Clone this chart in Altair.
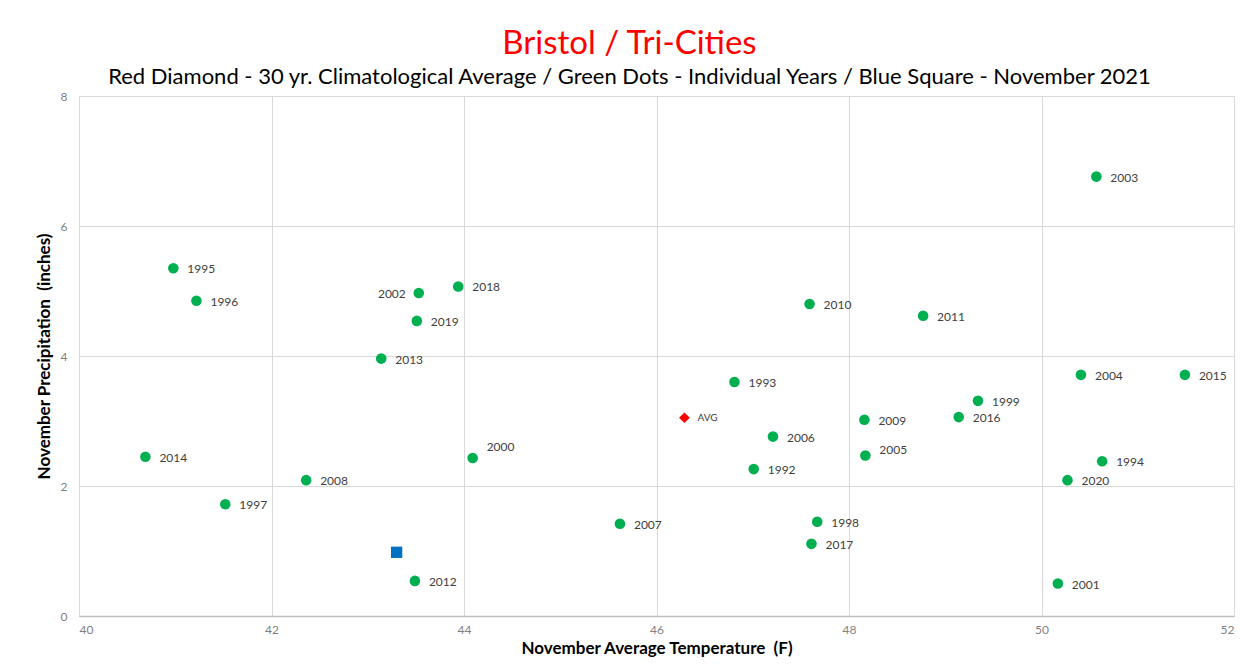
import altair as alt
import pandas as pd

years = ["1992", "1993", "1994", "1995", "1996", "1997", "1998", "1999", "2000",
         "2001", "2002", "2003", "2004", "2005", "2006", "2007", "2008", "2009",
         "2010", "2011", "2012", "2013", "2014", "2015", "2016", "2017", "2018",
         "2019", "2020"]
temps = [47.01, 46.81, 50.63, 40.98, 41.22, 41.52, 47.67, 49.34, 44.09,
         50.17, 43.53, 50.57, 50.41, 48.17, 47.21, 45.62, 42.36, 48.16,
         47.59, 48.77, 43.49, 43.14, 40.69, 51.49, 49.14, 47.61, 43.94,
         43.51, 50.27]
precip = [2.26, 3.60, 2.38, 5.35, 4.85, 1.72, 1.45, 3.31, 2.43,
          0.50, 4.97, 6.76, 3.71, 2.47, 2.76, 1.42, 2.09, 3.02,
          4.80, 4.62, 0.54, 3.96, 2.45, 3.71, 3.06, 1.11, 5.07,
          4.54, 2.09]

avg_label = ["AVG"]
avg_temp = [46.29]
avg_precip = [3.05]

cur_label = ["2021"]
cur_temp = [43.30]
cur_precip = [0.98]

x_ticks = [40, 42, 44, 46, 48, 50, 52]
y_ticks = [0, 2, 4, 6, 8]

# label placement groups
left_labeled = ["2002"]
raised_high = ["2000"]
raised_low = ["2005"]

df = pd.DataFrame({"year": years, "temp": temps, "precip": precip})
avg_df = pd.DataFrame({"label": avg_label, "temp": avg_temp, "precip": avg_precip})
cur_df = pd.DataFrame({"label": cur_label, "temp": cur_temp, "precip": cur_precip})

FONT = "Lato"
x_enc = alt.X("temp:Q", title="November Average Temperature\u00a0 (F)",
              scale=alt.Scale(domain=[40, 52], nice=False, zero=False),
              axis=alt.Axis(values=x_ticks, format="d", grid=True, gridColor="#d9d9d9",
                            domain=True, domainColor="#bfbfbf", domainWidth=1.5,
                            ticks=False, labelPadding=8, labelColor="#7f7f7f",
                            labelFontSize=12, labelFont=FONT,
                            titleFont=FONT, titleFontSize=17, titleFontWeight="bold",
                            titleColor="#000000", titlePadding=5))
y_enc = alt.Y("precip:Q", title="November Precipitation\u00a0 (inches)",
              scale=alt.Scale(domain=[0, 8], nice=False),
              axis=alt.Axis(values=y_ticks, format="d", grid=True, gridColor="#d9d9d9",
                            domain=False, ticks=False, labelPadding=12,
                            labelColor="#7f7f7f", labelFontSize=12, labelFont=FONT,
                            titleFont=FONT, titleFontSize=17, titleFontWeight="bold",
                            titleColor="#000000", titlePadding=7))

base = alt.Chart(df).encode(x=x_enc, y=y_enc)

points = base.mark_circle(size=112, color="#00b050", opacity=1)

text_style = dict(font=FONT, fontSize=12, color="#404040", baseline="middle")

normal_labels = base.transform_filter(
    ~alt.FieldOneOfPredicate(field="year", oneOf=left_labeled + raised_high + raised_low)
).mark_text(align="left", dx=14, dy=1, **text_style).encode(text="year:N")

left_labels = base.transform_filter(
    alt.FieldOneOfPredicate(field="year", oneOf=left_labeled)
).mark_text(align="right", dx=-13, dy=1, **text_style).encode(text="year:N")

high_labels = base.transform_filter(
    alt.FieldOneOfPredicate(field="year", oneOf=raised_high)
).mark_text(align="left", dx=14, dy=-11, **text_style).encode(text="year:N")

low_labels = base.transform_filter(
    alt.FieldOneOfPredicate(field="year", oneOf=raised_low)
).mark_text(align="left", dx=14, dy=-5, **text_style).encode(text="year:N")

avg_base = alt.Chart(avg_df).encode(x=alt.X("temp:Q"), y=alt.Y("precip:Q"))
avg_point = avg_base.mark_point(shape="diamond", filled=True, size=115,
                                color="#ff0000", opacity=1)
avg_text = avg_base.mark_text(align="left", dx=13, dy=0, font=FONT, fontSize=10,
                              color="#404040", baseline="middle").encode(text="label:N")

cur_point = alt.Chart(cur_df).mark_square(size=128, color="#0070c0", opacity=1).encode(
    x=alt.X("temp:Q"), y=alt.Y("precip:Q"))

chart = alt.layer(
    points, normal_labels, left_labels, high_labels, low_labels,
    avg_point, avg_text, cur_point
).properties(
    width=1155,
    height=520,
    title=alt.Title(
        text="Bristol / Tri-Cities",
        subtitle="Red Diamond - 30 yr. Climatological Average / Green Dots - Individual Years / Blue Square - November 2021",
        color="#ff0000", fontSize=33, font=FONT, fontWeight="normal",
        subtitleFont=FONT, subtitleFontSize=22, subtitleColor="#000000",
        subtitlePadding=6, anchor="middle", dx=-27, offset=2,
    ),
    autosize=alt.AutoSizeParams(type="none"),
    padding={"left": 71, "top": 88, "right": 8, "bottom": 43},
).configure_view(stroke=None).configure(background="#ffffff")

chart.save("out.html", embed_options={"renderer": "svg", "actions": False})
